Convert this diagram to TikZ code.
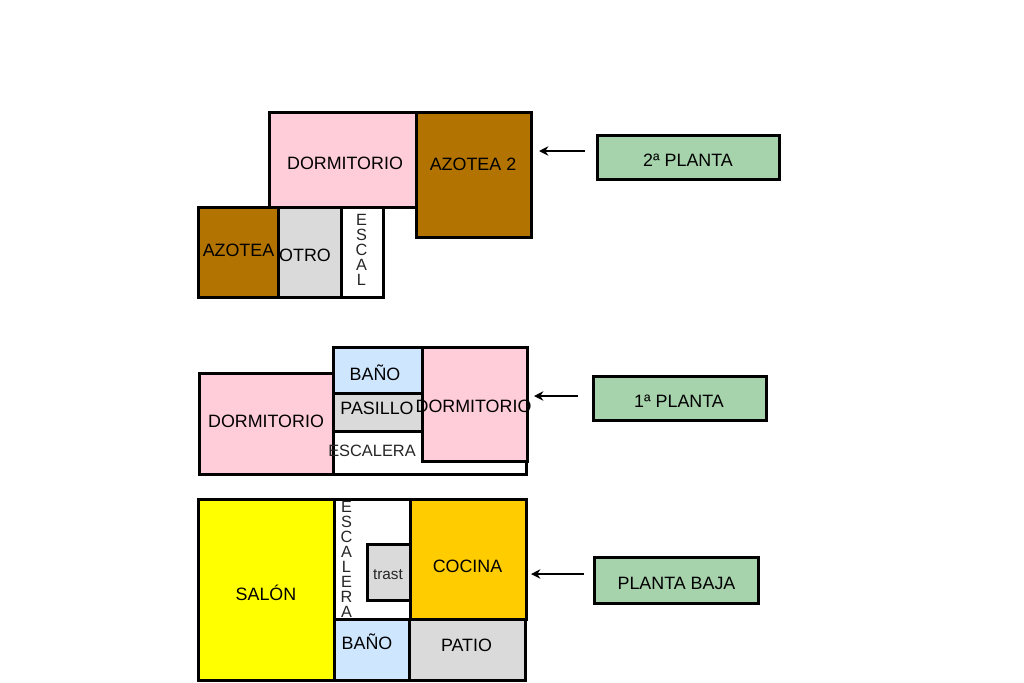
\documentclass[tikz,border=0pt]{standalone}
\usepackage{fontspec}
\setmainfont{Liberation Sans}
\usetikzlibrary{arrows.meta}
\definecolor{pinkroom}{HTML}{FFCCD9}
\definecolor{brownroom}{HTML}{B27300}
\definecolor{grayroom}{HTML}{DADADA}
\definecolor{blueroom}{HTML}{CFE6FF}
\definecolor{yellowroom}{HTML}{FFFF00}
\definecolor{orangeroom}{HTML}{FFCC00}
\definecolor{greenlabel}{HTML}{A6D3AC}
\tikzset{
  roomtext/.style={inner sep=0pt,font=\fontsize{13.4}{14}\selectfont,text=black},
  stacktext/.style={inner sep=0pt,align=center,font=\fontsize{12.2}{11.25}\selectfont,text=black!85},
  pointer/.style={draw=black,line width=1.2pt,-{Stealth[length=7pt,width=7pt]}}
}
% a room: black outline 3px wide (as two fills), centred on the given corners
\newcommand{\roomrect}[3]{%
  \fill[black] ([shift={(-1.5,-1.5)}]#1) rectangle ([shift={(1.5,1.5)}]#2);
  \fill[#3] ([shift={(1.5,1.5)}]#1) rectangle ([shift={(-1.5,-1.5)}]#2);
}
\begin{document}
\begin{tikzpicture}[x=0.75pt,y=-0.75pt]
\useasboundingbox (0,0) rectangle (1024,682);
% 2a planta
\roomrect{269,112}{416,207}{pinkroom}
\roomrect{198,207}{278,297}{brownroom}
\roomrect{278,207}{341,297}{grayroom}
\roomrect{341,207}{383,297}{white}
\roomrect{416,112}{531,237}{brownroom}
\node[roomtext] (t1) at (345,163.5) {DORMITORIO};
\node[roomtext] (t2) at (473,164) {AZOTEA 2};
\node[roomtext] (t3) at (238.5,250.5) {AZOTEA};
\node[roomtext] (t4) at (305,255.5) {OTRO};
\node[stacktext] (t5) at (361.5,250) {E\\S\\C\\A\\L};
% 1a planta
\roomrect{199,373}{333,474}{pinkroom}
\roomrect{333,431}{526,474}{white}
\roomrect{333,347}{422,393}{blueroom}
\roomrect{333,393}{422,431}{grayroom}
\roomrect{422,347}{527,461}{pinkroom}
\node[roomtext] (m1) at (266,421) {DORMITORIO};
\node[roomtext] (m2) at (375,373) {BAÑO};
\node[roomtext] (m3) at (377,408.5) {PASILLO};
\node[roomtext] (m4) at (473.5,406.5) {DORMITORIO};
\node[roomtext,font=\fontsize{12.3}{14}\selectfont,text=black!85] (m5) at (372,450.5) {ESCALERA};
% planta baja
\roomrect{198,499}{334,680}{yellowroom}
\roomrect{334,499}{410,619}{white}
\roomrect{367,544}{410,600}{grayroom}
\roomrect{410,499}{526,619}{orangeroom}
\roomrect{334,619}{409,680}{blueroom}
\roomrect{409,619}{525,680}{grayroom}
\node[roomtext] (b1) at (266,593) {SALÓN};
\node[stacktext] (b2) at (346.5,559) {E\\S\\C\\A\\L\\E\\R\\A};
\node[roomtext,font=\fontsize{11.5}{13}\selectfont,text=black!85] (b3) at (388,575) {trast};
\node[roomtext] (b4) at (467.5,566) {COCINA};
\node[roomtext] (b5) at (367,641.5) {BAÑO};
\node[roomtext] (b6) at (466.5,645) {PATIO};
% rotulos
\roomrect{597,135}{779,179}{greenlabel}
\roomrect{593,376}{766,420}{greenlabel}
\roomrect{594,557}{758,603}{greenlabel}
\node[roomtext] (l1) at (688,160) {2ª PLANTA};
\node[roomtext] (l2) at (679,401) {1ª PLANTA};
\node[roomtext] (l3) at (676.5,583) {PLANTA BAJA};
% flechas
\coordinate (a1s) at (585,151); \coordinate (a1e) at (539,151);
\coordinate (a2s) at (578,396); \coordinate (a2e) at (534,396);
\coordinate (a3s) at (584,574); \coordinate (a3e) at (531,574);
\draw[pointer] (a1s) -- (a1e);
\draw[pointer] (a2s) -- (a2e);
\draw[pointer] (a3s) -- (a3e);
\end{tikzpicture}
\end{document}
